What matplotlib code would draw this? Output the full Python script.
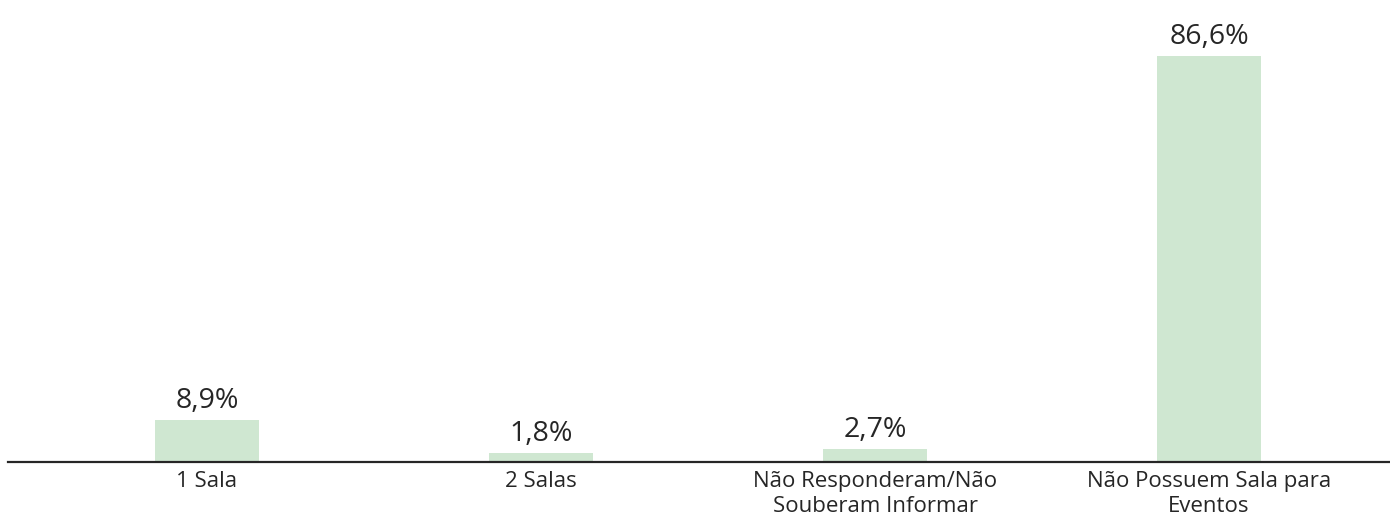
import matplotlib.pyplot as plt

categories = ['1 Sala', '2 Salas', 'Não Responderam/Não\nSouberam Informar',
              'Não Possuem Sala para\nEventos']
values = [8.9, 1.8, 2.7, 86.6]
value_labels = ['8,9%', '1,8%', '2,7%', '86,6%']

plt.rcParams['font.family'] = ['Open Sans', 'DejaVu Sans']

fig = plt.figure(figsize=(13.9, 5.19), dpi=100)
# axes spans from the axis line (y=461.7 px) up to near the top
ax = fig.add_axes([8 / 1390, (519 - 461.7) / 519, 1382 / 1390, (461.7 - 10) / 519])

x = list(range(len(categories)))
bars = ax.bar(x, values, width=0.31, color='#CFE7D1')

for b, lab in zip(bars, value_labels):
    ax.annotate(lab, (b.get_x() + b.get_width() / 2, b.get_height()),
                xytext=(0, 9), textcoords='offset points',
                ha='center', va='baseline', fontsize=20.5, color='#262626')

ax.set_xlim(-0.596, 3.542)
ax.set_ylim(0, (461.7 - 10) / 4.68)
ax.set_xticks(x)
ax.set_xticklabels(categories, fontsize=16, color='#262626', linespacing=1.2)
ax.tick_params(axis='x', length=0, pad=7)
ax.set_yticks([])

for side in ['top', 'right', 'left']:
    ax.spines[side].set_visible(False)
ax.spines['bottom'].set_color('#262626')
ax.spines['bottom'].set_linewidth(1.6)

fig.savefig('out.png', dpi=100)
